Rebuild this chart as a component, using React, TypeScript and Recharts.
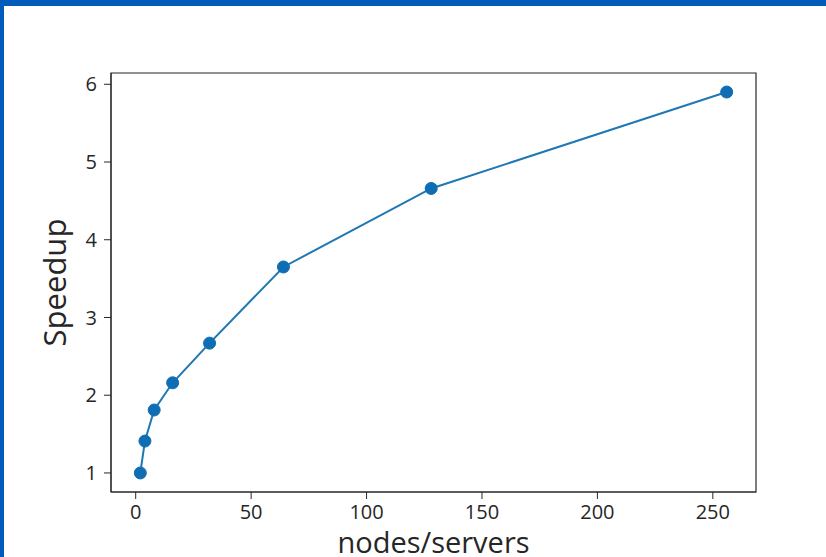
import { LineChart, Line, XAxis, YAxis, ReferenceArea, Label } from "recharts";

const nodes = [2, 4, 8, 16, 32, 64, 128, 256];
const speedup = [1.0, 1.41, 1.81, 2.16, 2.67, 3.65, 4.66, 5.9];
const xTicks = [0, 50, 100, 150, 200, 250];
const yTicks = [1, 2, 3, 4, 5, 6];

// matplotlib-style 5% margins around the data
const X_DOMAIN: [number, number] = [-10.7, 268.7];
const Y_DOMAIN: [number, number] = [0.755, 6.145];

const data = nodes.map((n, i) => ({ nodes: n, speedup: speedup[i] }));

const FONT = "'Open Sans', 'DejaVu Sans', sans-serif";
const INK = "#262626";
const BLUE = "#1f77b4";

export default function App() {
  return (
    <div
      style={{
        position: "absolute",
        left: 0,
        top: 0,
        width: 826,
        height: 557,
        overflow: "hidden",
        background: "#fff",
        fontFamily: FONT,
      }}
    >
      <div style={{ position: "absolute", left: 0, top: 0, width: 826, height: 6, background: "#005bbb" }} />
      <div style={{ position: "absolute", left: 0, top: 0, width: 4, height: 557, background: "#005bbb" }} />
      <LineChart
        width={826}
        height={557}
        data={data}
        margin={{ top: 73, right: 70, bottom: 0, left: 0 }}
        style={{ position: "absolute", left: 0, top: 0 }}
      >
        <XAxis
          dataKey="nodes"
          type="number"
          domain={X_DOMAIN}
          ticks={xTicks}
          allowDataOverflow
          height={65}
          stroke={INK}
          tickSize={7}
          tickMargin={6}
          tick={{ fill: INK, fontSize: 20, fontFamily: FONT }}
        >
          <Label
            value="nodes/servers"
            position="insideBottom"
            offset={4}
            style={{ fill: INK, fontSize: 29, fontFamily: FONT }}
          />
        </XAxis>
        <YAxis
          type="number"
          domain={Y_DOMAIN}
          ticks={yTicks}
          allowDataOverflow
          width={111}
          stroke={INK}
          tickSize={7}
          tickMargin={7}
          tick={{ fill: INK, fontSize: 20, fontFamily: FONT }}
        >
          <Label
            content={(props: any) => {
              const vb = props.viewBox || { x: 0, y: 73, width: 111, height: 419 };
              const cx = 66;
              const cy = vb.y + vb.height / 2;
              return (
                <text
                  x={cx}
                  y={cy}
                  transform={`rotate(-90, ${cx}, ${cy})`}
                  textAnchor="middle"
                  fill={INK}
                  fontSize={31}
                  fontFamily={FONT}
                >
                  Speedup
                </text>
              );
            }}
          />
        </YAxis>
        <ReferenceArea
          x1={X_DOMAIN[0]}
          x2={X_DOMAIN[1]}
          y1={Y_DOMAIN[0]}
          y2={Y_DOMAIN[1]}
          fill="none"
          stroke={INK}
          strokeWidth={1.2}
        />
        <Line
          type="linear"
          dataKey="speedup"
          stroke={BLUE}
          strokeWidth={2}
          dot={{ r: 6, fill: "#0f6db3", stroke: "#0f6db3", strokeWidth: 1 }}
          isAnimationActive={false}
        />
      </LineChart>
    </div>
  );
}
